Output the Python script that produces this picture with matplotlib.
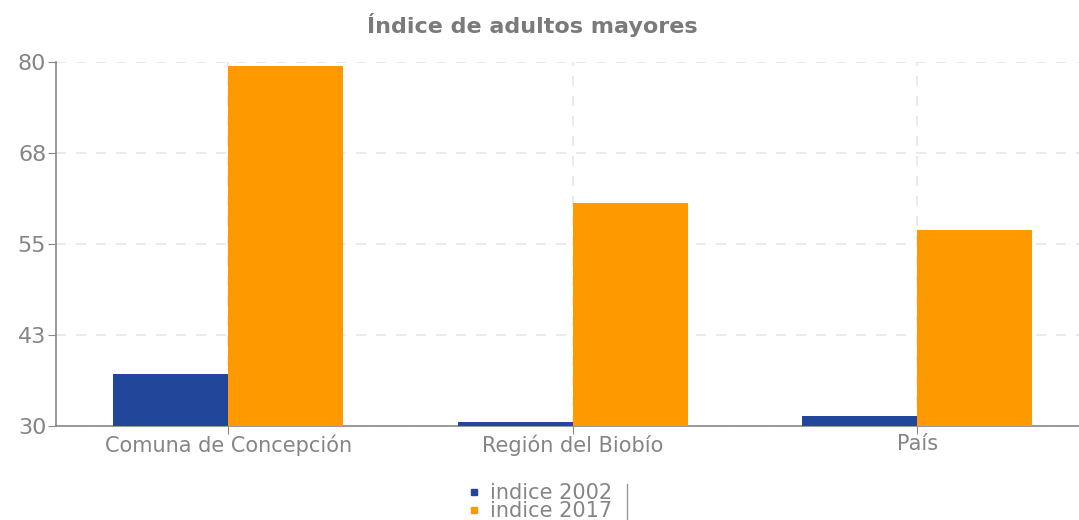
import numpy as np
import matplotlib.pyplot as plt
from matplotlib.lines import Line2D

# data
categories = ['Comuna de Concepción', 'Región del Biobío', 'País']
indice_2002 = [37.2, 30.5, 31.4]
indice_2017 = [79.5, 60.6, 56.9]
series_names = ['indice 2002', 'indice 2017']
y_ticks = [30, 42.5, 55, 67.5, 80]
y_tick_labels = ['30', '43', '55', '68', '80']

blue = '#22479a'
orange = '#ff9900'
grey = '#7a7a7a'
light_grey = '#858585'

fig = plt.figure(figsize=(10.79, 5.20), dpi=100)
ax = fig.add_axes([56 / 1079, 1 - 426 / 520, 1033.5 / 1079, 364 / 520])

x = np.arange(len(categories))
w = 1 / 3
ax.bar(x - w / 2, np.array(indice_2002) - 30, w, bottom=30, color=blue, label=series_names[0], zorder=3)
ax.bar(x + w / 2, np.array(indice_2017) - 30, w, bottom=30, color=orange, label=series_names[1], zorder=3)

ax.set_xlim(-0.5, 2.5)
ax.set_ylim(30, 80)
ax.set_yticks(y_ticks)
ax.set_yticklabels(y_tick_labels)
ax.set_xticks(x)
ax.set_xticklabels(categories)

# dashed grid lines
ax.grid(True, color='#e6e6e6', linestyle=(0, (6, 6)), linewidth=1.2, zorder=0)

for s in ['top', 'right']:
    ax.spines[s].set_visible(False)
for s in ['left', 'bottom']:
    ax.spines[s].set_color('#888888')
    ax.spines[s].set_linewidth(1.2)

ax.tick_params(axis='y', colors='#888888', labelcolor=light_grey, labelsize=16, length=6, pad=1)
ax.tick_params(axis='x', colors='#888888', labelcolor=light_grey, labelsize=15, length=6, pad=0)

fig.text(532 / 1079, 1 - 25 / 520, 'Índice de adultos mayores', ha='center', va='center',
         fontsize=16, fontweight='bold', color=grey)

handles = [Line2D([], [], marker='s', linestyle='', color=blue, markersize=5),
           Line2D([], [], marker='s', linestyle='', color=orange, markersize=5)]
fig.legend(handles, series_names, loc='center', bbox_to_anchor=(540 / 1079, 1 - 502 / 520),
           frameon=False, fontsize=15, labelcolor=light_grey, handlelength=0.6, handletextpad=0.5,
           labelspacing=-0.1, borderpad=0)
fig.add_artist(Line2D([627 / 1079, 627 / 1079], [0, 1 - 484 / 520], color='#999999', linewidth=1))

plt.savefig('out.png', dpi=100)
